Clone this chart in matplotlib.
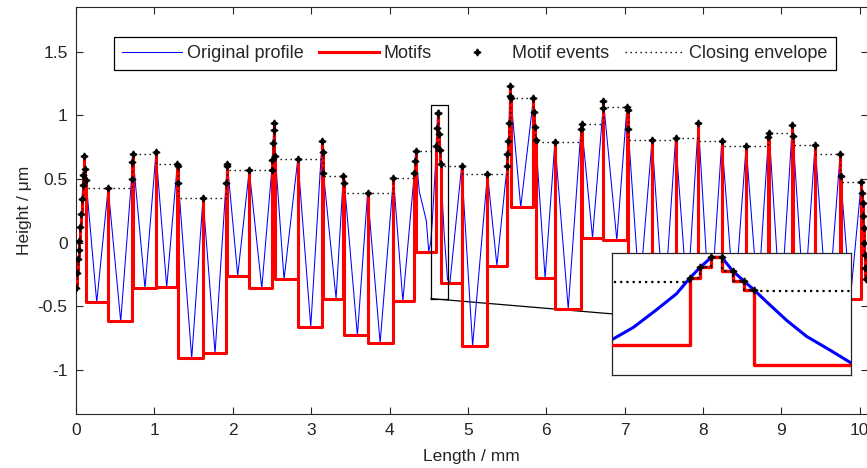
import numpy as np
import matplotlib
matplotlib.use("Agg")
import matplotlib.pyplot as plt
from matplotlib.ticker import FuncFormatter
from matplotlib.patches import ConnectionPatch

plt.rcParams['font.family'] = ['Liberation Sans', 'DejaVu Sans']
plt.rcParams['axes.unicode_minus'] = False

# motif events of each peak (x in mm, height in um), left to right
peak_groups = [
    [(0.000, -0.36), (0.017, -0.24), (0.026, -0.13), (0.038, -0.055), (0.043, 0.01),
     (0.055, 0.12), (0.068, 0.225), (0.077, 0.34), (0.085, 0.45), (0.094, 0.53),
     (0.102, 0.68), (0.118, 0.58), (0.128, 0.49)],
    [(0.41, 0.43)],
    [(0.708, 0.50), (0.715, 0.63), (0.723, 0.70)],
    [(1.02, 0.71)],
    [(1.293, 0.62), (1.299, 0.60), (1.306, 0.47)],
    [(1.62, 0.35)],
    [(1.914, 0.47), (1.925, 0.60), (1.931, 0.62)],
    [(2.21, 0.57)],
    [(2.497, 0.57), (2.503, 0.65), (2.512, 0.78), (2.52, 0.885), (2.526, 0.94), (2.543, 0.68)],
    [(2.83, 0.66)],
    [(3.139, 0.80), (3.146, 0.71), (3.156, 0.55)],
    [(3.41, 0.52), (3.424, 0.47)],
    [(3.72, 0.39)],
    [(4.05, 0.51)],
    [(4.317, 0.55), (4.325, 0.645), (4.334, 0.72)],
    [(4.5947, 0.761), (4.6043, 0.898), (4.6142, 1.022), (4.6238, 1.022),
     (4.6334, 0.856), (4.6433, 0.732), (4.6529, 0.616)],
    [(4.92, 0.60)],
    [(5.25, 0.54)],
    [(5.50, 0.60), (5.505, 0.70), (5.515, 0.80), (5.525, 0.94), (5.532, 1.15),
     (5.54, 1.23), (5.548, 1.14)],
    [(5.836, 1.135), (5.848, 1.025), (5.858, 0.91), (5.866, 0.81)],
    [(6.11, 0.79)],
    [(6.443, 0.895), (6.45, 0.93)],
    [(6.725, 1.06), (6.73, 1.11)],
    [(7.03, 1.07), (7.04, 1.04), (7.045, 0.89)],
    [(7.35, 0.81)],
    [(7.65, 0.82)],
    [(7.94, 0.94)],
    [(8.24, 0.80)],
    [(8.55, 0.76)],
    [(8.835, 0.83), (8.845, 0.86)],
    [(9.14, 0.925), (9.148, 0.84)],
    [(9.43, 0.77)],
    [(9.75, 0.70), (9.755, 0.52)],
    [(10.02, 0.48), (10.03, 0.39), (10.037, 0.31), (10.044, 0.21), (10.05, 0.115),
     (10.058, 0.0), (10.064, -0.10), (10.07, -0.20), (10.078, -0.29)],
]

# valley (motif depth) between consecutive peaks
valley_x = [0.264, 0.57, 0.88, 1.157, 1.476, 1.774, 2.063, 2.37, 2.654, 2.995, 3.318,
            3.59, 3.88, 4.17, 4.50, 4.77, 5.06, 5.37, 5.674, 5.985, 6.28, 6.59, 6.90,
            7.19, 7.50, 7.80, 8.09, 8.40, 8.70, 8.99, 9.29, 9.59, 9.88]
valley_y = [-0.47, -0.62, -0.36, -0.35, -0.91, -0.87, -0.26, -0.36, -0.29, -0.66, -0.44,
            -0.73, -0.79, -0.46, -0.07, -0.32, -0.81, -0.18, 0.28, -0.28, -0.52, 0.04, 0.02,
            -0.40, -0.55, -0.45, -0.60, -0.50, -0.45, -0.55, -0.50, -0.60, -0.44]

# extra profile samples around the zoomed peak
shape_x = [4.38, 4.42, 4.47, 4.525, 4.544, 4.564, 4.583, 4.664, 4.682, 4.70, 4.721, 4.74]
shape_y = [0.40, 0.30, 0.17, 0.00, 0.15, 0.36, 0.57, 0.47, 0.24, 0.04, -0.13, -0.29]

zoom_x = (4.525, 4.74)
zoom_y = (-0.44, 1.08)

# events, motif floors
ev_x, ev_y, floors = [], [], []
for gi, grp in enumerate(peak_groups):
    for k, (x, y) in enumerate(grp):
        ev_x.append(x)
        ev_y.append(y)
        if k < len(grp) - 1:
            floors.append(min(y, grp[k + 1][1]))
        elif gi < len(valley_y):
            floors.append(valley_y[gi])
ev_x = np.array(ev_x)
ev_y = np.array(ev_y)

mot_x, mot_y = [ev_x[0]], [ev_y[0]]
for i, f in enumerate(floors):
    mot_x += [ev_x[i], ev_x[i + 1], ev_x[i + 1]]
    mot_y += [f, f, ev_y[i + 1]]

env = np.minimum(ev_y[:-1], ev_y[1:])
env_x = np.repeat(ev_x, 2)[1:-1]
env_y = np.repeat(env, 2)

prof_x = np.concatenate([ev_x, valley_x, shape_x])
prof_y = np.concatenate([ev_y, valley_y, shape_y])
order = np.argsort(prof_x, kind='stable')
prof_x, prof_y = prof_x[order], prof_y[order]

fig = plt.figure(figsize=(8.67, 4.68), dpi=100)
ax = fig.add_axes([0.0877, 0.1147, 0.913, 0.8697])

ax.plot(prof_x, prof_y, color='#0000ff', lw=0.75, label='Original profile', zorder=2)
ax.plot(mot_x, mot_y, color='#ff0000', lw=2.2, label='Motifs', zorder=3)
ax.plot(ev_x, ev_y, ls='none', marker=(4, 1, 0), ms=5, color='k',
        label='Motif events', zorder=5)
ax.plot(env_x, env_y, color='k', ls=(0, (1, 2.6)), lw=1.0,
        label='Closing envelope', zorder=4)

# zoom rectangle
ax.plot([zoom_x[0], zoom_x[1], zoom_x[1], zoom_x[0], zoom_x[0]],
        [zoom_y[0], zoom_y[0], zoom_y[1], zoom_y[1], zoom_y[0]],
        color='k', lw=0.9, zorder=6)

ax.set_xlim(0, 10.1)
ax.set_ylim(-1.35, 1.85)
ax.set_xticks(range(0, 11))
ax.set_yticks([-1, -0.5, 0, 0.5, 1, 1.5])
ax.yaxis.set_major_formatter(FuncFormatter(lambda v, p: '%g' % v))
ax.tick_params(direction='in', length=5, width=0.8, top=True, right=True,
               labelsize=12.5, pad=6, colors='#262626')
for s in ax.spines.values():
    s.set_color('#262626')
    s.set_linewidth(0.8)
ax.set_xlabel('Length / mm', fontsize=12.5, color='#262626', labelpad=8)
ax.set_ylabel('Height / μm', fontsize=12.5, color='#262626', labelpad=4)

leg = ax.legend(ncol=4, loc='upper left', bbox_to_anchor=(0.048, 0.927),
                fontsize=13, frameon=True, fancybox=False, framealpha=1,
                edgecolor='k', handlelength=3.3, handletextpad=0.28,
                columnspacing=0.86, borderpad=0.45, borderaxespad=0)
leg.get_frame().set_linewidth(0.9)
for t in leg.get_texts():
    t.set_color('#262626')

# inset
ins = fig.add_axes([0.7059, 0.1987, 0.2757, 0.2613])
ins.plot(prof_x, prof_y, color='#0000ff', lw=2.2, zorder=2)
ins.plot(mot_x, mot_y, color='#ff0000', lw=2.4, zorder=3)
ins.plot(env_x, env_y, color='k', ls=(0, (1, 1.8)), lw=1.6, zorder=4)
ins.plot(ev_x, ev_y, ls='none', marker=(4, 1, 0), ms=5, color='k', zorder=5)
ins.set_xlim(*zoom_x)
ins.set_ylim(*zoom_y)
ins.set_xticks([])
ins.set_yticks([])
for s in ins.spines.values():
    s.set_color('#262626')
    s.set_linewidth(0.9)

con = ConnectionPatch(xyA=(zoom_x[0], zoom_y[0]), coordsA=ax.transData,
                      xyB=(0, 0.5), coordsB=ins.transAxes, color='k', lw=0.9)
ax.add_artist(con)

fig.savefig('out.png', dpi=100)
